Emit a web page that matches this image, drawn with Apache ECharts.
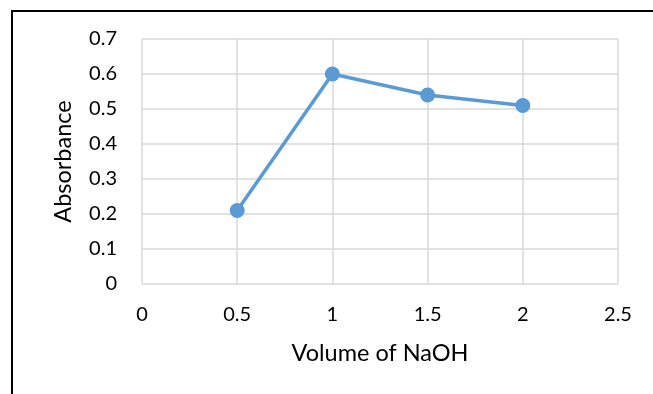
<!DOCTYPE html>
<html><head><meta charset="utf-8">
<script src="https://cdn.jsdelivr.net/npm/echarts@6/dist/echarts.min.js"></script>
<style>
html,body{margin:0;padding:0;background:#fff;}
#frame{position:absolute;left:11px;top:10px;width:700px;height:500px;border-left:2px solid #000;border-top:2px solid #000;}
#c{position:absolute;left:0;top:0;width:653px;height:394px;}
</style></head>
<body>
<div id="frame"></div>
<div id="c"></div>
<script>
const volumes = [0.5, 1, 1.5, 2];
const absorbance = [0.21, 0.60, 0.54, 0.51];
const xName = 'Volume of NaOH';
const yName = 'Absorbance';

const chart = echarts.init(document.getElementById('c'), null, {renderer:'canvas'});
const fnt = 'Lato, Open Sans, sans-serif';
const fmt = v => String(+v.toFixed(1));
chart.setOption({
  backgroundColor: 'transparent',
  animation: false,
  grid: {left:142, top:39, right:35, bottom:110, containLabel:false},
  xAxis: {
    type:'value', min:0, max:2.5, interval:0.5,
    name: xName, nameLocation:'middle', nameGap:57,
    nameTextStyle:{fontSize:23.5, color:'#000', fontFamily:fnt},
    axisLine:{show:false}, axisTick:{show:false},
    axisLabel:{fontSize:20, color:'#000', fontFamily:fnt, margin:21, formatter:fmt},
    splitLine:{show:true, lineStyle:{color:'#d9d9d9', width:1.5}}
  },
  yAxis: {
    type:'value', min:0, max:0.7, interval:0.1,
    name: yName, nameLocation:'middle', nameGap:67,
    nameTextStyle:{fontSize:23.5, color:'#000', fontFamily:fnt},
    axisLine:{show:false}, axisTick:{show:false},
    axisLabel:{fontSize:20, color:'#000', fontFamily:fnt, margin:25, formatter:fmt},
    splitLine:{show:true, lineStyle:{color:'#d9d9d9', width:1.5}}
  },
  series: [{
    type:'line',
    data: volumes.map((v,i)=>[v, absorbance[i]]),
    symbol:'circle', symbolSize:15,
    lineStyle:{color:'#5b9bd5', width:3.5},
    itemStyle:{color:'#5b9bd5'}
  }]
});
</script>
</body></html>
